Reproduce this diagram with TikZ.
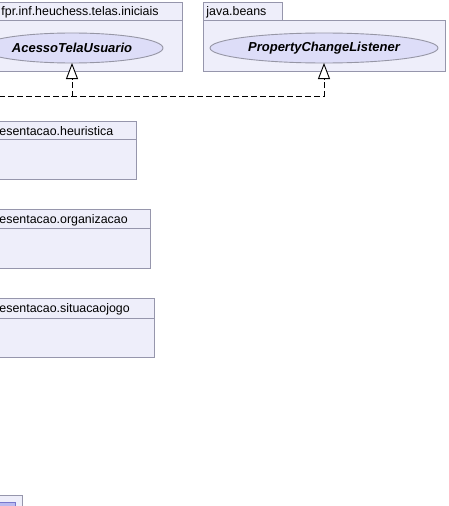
\documentclass[tikz,border=0pt]{standalone}
\usepackage{fontspec}
\setmainfont{Liberation Sans}
\usetikzlibrary{shapes.geometric,arrows.meta}
\definecolor{pkgfill}{RGB}{238,238,250}
\definecolor{pkgline}{RGB}{150,150,172}
\definecolor{ifill}{RGB}{221,221,248}
\definecolor{iline}{RGB}{150,150,165}
\definecolor{cfill}{RGB}{186,186,240}
\definecolor{cline}{RGB}{120,120,205}
\begin{document}
\begin{tikzpicture}[x=1pt,y=-1pt,line width=0.9pt,
  pkg/.style={rectangle,draw=pkgline,fill=pkgfill,inner sep=0pt,outer sep=0pt,anchor=north west},
  iface/.style={ellipse,draw=iline,fill=ifill,inner sep=0pt,outer sep=0pt,minimum height=30pt,font=\fontsize{13}{15}\selectfont\bfseries\itshape},
  pname/.style={anchor=base west,inner sep=0pt,font=\fontsize{12.4}{14}\selectfont},
  realize/.style={draw=black,dash pattern=on 6pt off 3pt,-{Triangle[width=12pt,length=16pt,fill=white]}}]
        \useasboundingbox (0,0) rectangle (448,506);
        \draw (-20,20) node[pkg,minimum width=202pt,minimum height=51pt](pkgIniciais){};
        \draw (-20,2) node[pkg,minimum width=202pt,minimum height=18pt](tabIniciais){};
        \draw (1,15.5) node[pname](nomeIniciais){fpr.inf.heuchess.telas.iniciais};
        \draw (72,48) node[iface,minimum width=182pt](acesso){AcessoTelaUsuario};
        \draw (203,20) node[pkg,minimum width=242pt,minimum height=51pt](pkgBeans){};
        \draw (203,2) node[pkg,minimum width=79pt,minimum height=18pt](tabBeans){};
        \draw (206,15.5) node[pname](nomeBeans){java.beans};
        \draw (324,48) node[iface,minimum width=228pt](listener){PropertyChangeListener};
        \draw (-20,139) node[pkg,minimum width=156pt,minimum height=40pt](pkgHeuristica){};
        \draw (-20,121.5) node[pkg,minimum width=156pt,minimum height=17.5pt](tabHeuristica){};
        \draw (-1,135) node[pname](nomeHeuristica){esentacao.heuristica};
        \draw (-20,228) node[pkg,minimum width=170pt,minimum height=40pt](pkgOrganizacao){};
        \draw (-20,209.5) node[pkg,minimum width=170pt,minimum height=18.5pt](tabOrganizacao){};
        \draw (-1,223) node[pname](nomeOrganizacao){esentacao.organizacao};
        \draw (-20,318) node[pkg,minimum width=174pt,minimum height=39pt](pkgSituacao){};
        \draw (-20,298.5) node[pkg,minimum width=174pt,minimum height=19.5pt](tabSituacao){};
        \draw (-1,312) node[pname](nomeSituacao){esentacao.situacaojogo};
        \draw (-20,495) node[pkg,minimum width=42pt,minimum height=30pt](pkgBaixo){};
        \draw (-20,502) node[pkg,draw=cline,fill=cfill,minimum width=35pt,minimum height=20pt](clsBaixo){};
        \coordinate (impl) at (-10,96);
        \draw[realize] (impl) -| (acesso);
        \draw[realize] (impl) -| (listener);
      \end{tikzpicture}
\end{document}
